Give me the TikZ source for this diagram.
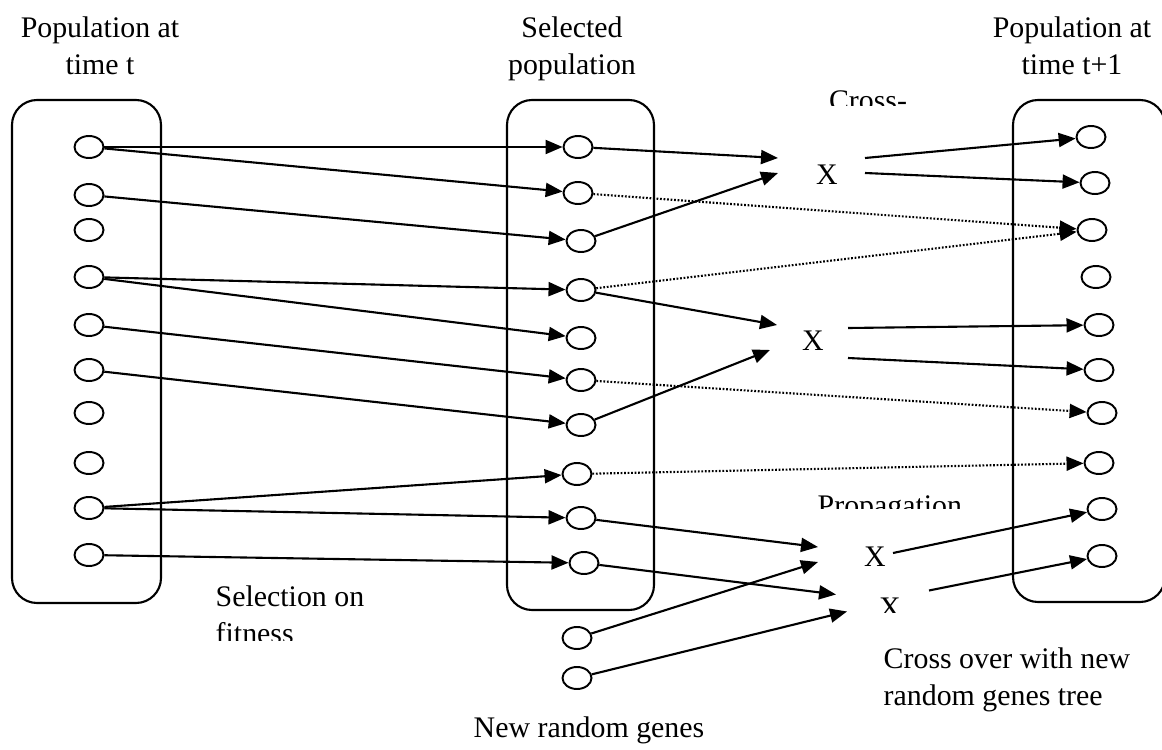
\documentclass[tikz,border=0pt]{standalone}
\usepackage{fontspec}
\setmainfont{Liberation Serif}
\usetikzlibrary{arrows.meta, calc, shapes.geometric}

\tikzset{
  gene/.style={draw, ellipse, line width=0.55pt, minimum width=2.9mm, minimum height=2.2mm, inner sep=0pt},
  pop/.style={draw, line width=0.6pt, rounded corners=2.5mm},
  link/.style={line width=0.6pt, -{Triangle[length=1.7mm, width=1.4mm]}},
  carry/.style={link, dash pattern=on 0.5pt off 0.5pt},
  lbl/.style={font=\fontsize{8.5}{10.5}\selectfont, inner sep=0pt},
  cross/.style={font=\fontsize{8.5}{10.5}\selectfont, inner sep=0pt}
}

\begin{document}
\begin{tikzpicture}[x=0.1mm, y=-0.1mm]
  \useasboundingbox (0,0) rectangle (1162,750);
  \clip (0,0) rectangle (1162,750);

  % the three populations
  \draw[pop] (12,100) rectangle (161,603);
  \draw[pop] (507,100) rectangle (654,610);
  \draw[pop] (1013,100) rectangle (1165,602);

  \node[lbl, align=center, anchor=north] (poptitle) at (100,16) {Population at\\time t};
  \node[lbl, align=center, anchor=north] (seltitle) at (572,16) {Selected\\population};
  \node[lbl, align=center, anchor=north] (newtitle) at (1072,16) {Population at\\time t+1};

  \foreach \y [count=\i] in {147,195,230,277,325,370,413,463,508,555}
    \node[gene] (l\i) at (89,\y) {};
  \foreach \x/\y [count=\i] in {578/147,578/193,581/241,581/290,581/338,581/380,581/425,577/474,581/518,584/563,577/638,577/678}
    \node[gene] (m\i) at (\x,\y) {};
  \foreach \x/\y [count=\i] in {1091/137,1095/183,1092/230,1096/277,1099/325,1099/370,1102/413,1099/463,1102/509,1102/556}
    \node[gene] (r\i) at (\x,\y) {};

  % crossover points
  \node[cross] (x1) at (827,175) {X};
  \node[cross] (x2) at (813,341) {X};
  \node[cross] (x3) at (875,557) {X};
  \begin{scope}
    \clip (860,580) rectangle (920,612);
    \node[cross, anchor=north] (x4) at (890,597) {X};
  \end{scope}

  % selection
  \draw[link] (l1) -- (m1);
  \draw[link] (l1) -- (m2);
  \draw[link] (l2) -- (m3);
  \draw[link] (l4) -- (m4);
  \draw[link] (l4) -- (m5);
  \draw[link] (l5) -- (m6);
  \draw[link] (l6) -- (m7);
  \draw[link] (l9) -- (m8);
  \draw[link] (l9) -- (m9);
  \draw[link] (l10) -- (m10);

  % cross-over
  \draw[link] (m1) -- ($(x1)+(-49,-17)$);
  \draw[link] (m3) -- ($(x1)+(-49,-2)$);
  \draw[link] ($(x1)+(38,-17)$) -- (r1);
  \draw[link] ($(x1)+(38,-2)$) -- (r2);

  \draw[link] (m4) -- ($(x2)+(-36,-16)$);
  \draw[link] (m7) -- ($(x2)+(-43,9)$);
  \draw[link] ($(x2)+(35,-13)$) -- (r5);
  \draw[link] ($(x2)+(35,17)$) -- (r6);

  \draw[link] (m9) -- ($(x3)+(-57,-10)$);
  \draw[link] (m11) -- ($(x3)+(-57,5)$);
  \draw[link] ($(x3)+(18,-4)$) -- (r9);

  \draw[link] (m10) -- ($(x4.center)+(-54,-13)$);
  \draw[link] (m12) -- ($(x4.center)+(-43,4)$);
  \draw[link] ($(x4.center)+(39,-17)$) -- (r10);

  % propagation
  \draw[carry] (m2) -- (r3);
  \draw[carry] (m4) -- (r3);
  \draw[carry] (m6) -- (r7);
  \draw[carry] (m8) -- (r8);

  \begin{scope}
    \clip (800,60) rectangle (960,106);
    \node[lbl, anchor=north] (crosslbl) at (868,90) {Cross-};
  \end{scope}
  \begin{scope}
    \clip (800,480) rectangle (980,508);
    \node[lbl, anchor=north west] (proplbl) at (817,495) {Propagation};
  \end{scope}
  \begin{scope}
    \clip (200,570) rectangle (400,640);
    \node[lbl, align=left, anchor=north west] (sellbl) at (215,585) {Selection on\\fitness};
  \end{scope}
  \node[lbl, align=left, anchor=north west] (newcross) at (883,647) {Cross over with new\\random genes tree};
  \node[lbl, anchor=base] (newgenes) at (589,737) {New random genes};
\end{tikzpicture}
\end{document}
